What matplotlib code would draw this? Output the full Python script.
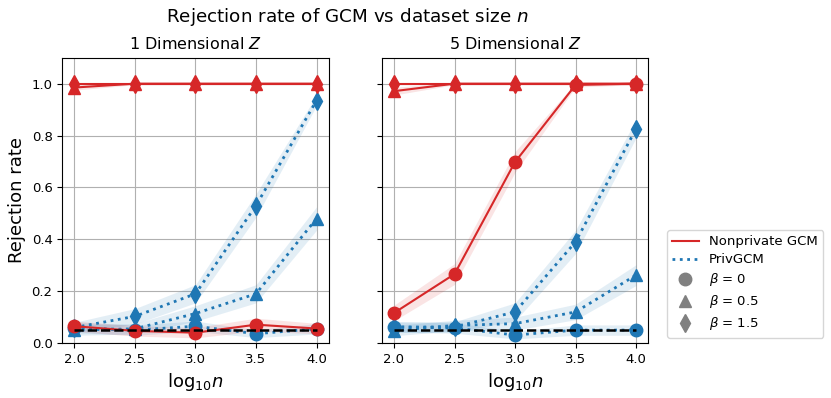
import matplotlib
matplotlib.use("Agg")
import matplotlib.pyplot as plt
from matplotlib.lines import Line2D
import numpy as np

log_n = [2.0, 2.5, 3.0, 3.5, 4.0]

# Panel 1: 1 Dimensional Z
np1_b0 = [0.065, 0.047, 0.040, 0.071, 0.056]
np1_b05 = [0.985, 1.0, 1.0, 1.0, 1.0]
np1_b15 = [1.0, 1.0, 1.0, 1.0, 1.0]
pr1_b0 = [0.060, 0.050, 0.065, 0.036, 0.055]
pr1_b05 = [0.050, 0.055, 0.114, 0.190, 0.480]
pr1_b15 = [0.060, 0.103, 0.190, 0.530, 0.935]

# Panel 2: 5 Dimensional Z
np5_b0 = [0.116, 0.266, 0.698, 0.995, 1.0]
np5_b05 = [0.971, 1.0, 1.0, 1.0, 1.0]
np5_b15 = [1.0, 1.0, 1.0, 1.0, 1.0]
pr5_b0 = [0.062, 0.058, 0.031, 0.050, 0.050]
pr5_b05 = [0.048, 0.068, 0.075, 0.120, 0.262]
pr5_b15 = [0.062, 0.062, 0.120, 0.390, 0.826]

# band half-widths (estimated)
hw1_np = [[0.02, 0.02, 0.02, 0.025, 0.02], [0.01, 0.004, 0.004, 0.004, 0.004], [0.004]*5]
hw1_pr = [[0.02, 0.02, 0.02, 0.015, 0.02], [0.02, 0.02, 0.03, 0.035, 0.045], [0.02, 0.03, 0.035, 0.045, 0.02]]
hw5_np = [[0.03, 0.04, 0.04, 0.008, 0.004], [0.015, 0.004, 0.004, 0.004, 0.004], [0.004]*5]
hw5_pr = [[0.02, 0.02, 0.015, 0.02, 0.02], [0.02, 0.02, 0.025, 0.03, 0.04], [0.02, 0.02, 0.035, 0.045, 0.035]]

alpha_level = 0.05

titles = ["1 Dimensional $Z$", "5 Dimensional $Z$"]
markers = ["o", "^", "d"]
RED = "#d62728"
BLUE = "#1f77b4"

fig, axes = plt.subplots(1, 2, figsize=(8.31, 3.98), dpi=100, sharey=True)
fig.subplots_adjust(left=0.075, right=0.78, top=0.855, bottom=0.138, wspace=0.2)

panels = [
    ([np1_b0, np1_b05, np1_b15], [pr1_b0, pr1_b05, pr1_b15], hw1_np, hw1_pr),
    ([np5_b0, np5_b05, np5_b15], [pr5_b0, pr5_b05, pr5_b15], hw5_np, hw5_pr),
]

MS = 9
for ax, (nps, prs, hwn, hwp), title in zip(axes, panels, titles):
    x = np.array(log_n)
    for vals, hw, m in zip(prs, hwp, markers):
        v = np.array(vals); h = np.array(hw)
        ax.fill_between(x, v - h, v + h, color=BLUE, alpha=0.12, linewidth=0)
        ax.plot(x, v, linestyle=":", color=BLUE, linewidth=2, marker=m, markersize=MS)
    for vals, hw, m in zip(nps, hwn, markers):
        v = np.array(vals); h = np.array(hw)
        ax.fill_between(x, v - h, v + h, color=RED, alpha=0.12, linewidth=0)
        ax.plot(x, v, linestyle="-", color=RED, linewidth=1.5, marker=m, markersize=MS)
    ax.plot(x, [alpha_level]*len(x), linestyle="--", color="black", linewidth=1.8, zorder=5)
    ax.set_title(title, fontsize=11.5)
    ax.set_xlabel("$\\mathrm{log}_{10}n$", fontsize=13)
    ax.set_ylim(0, 1.1)
    ax.set_xticks([2.0, 2.5, 3.0, 3.5, 4.0])
    ax.grid(True, color="#b0b0b0", linewidth=0.8)
    ax.set_axisbelow(True)
    ax.tick_params(labelsize=9.5)

axes[0].set_ylabel("Rejection rate", fontsize=13)
axes[0].set_yticks([0.0, 0.2, 0.4, 0.6, 0.8, 1.0])

fig.suptitle("Rejection rate of GCM vs dataset size $n$", fontsize=13.2, x=0.418, y=0.985)

handles = [
    Line2D([], [], color=RED, linestyle="-", linewidth=1.5),
    Line2D([], [], color=BLUE, linestyle=":", linewidth=2),
    Line2D([], [], color="grey", linestyle="none", marker="o", markersize=MS),
    Line2D([], [], color="grey", linestyle="none", marker="^", markersize=MS),
    Line2D([], [], color="grey", linestyle="none", marker="d", markersize=MS),
]
labels = ["Nonprivate GCM", "PrivGCM", "$\\beta$ = 0", "$\\beta$ = 0.5", "$\\beta$ = 1.5"]
fig.legend(handles, labels, loc="upper left", bbox_to_anchor=(667/831, 1 - 230/398),
           borderaxespad=0, fontsize=9.5, labelspacing=0.38, frameon=True)

fig.savefig("out.png", dpi=100)
